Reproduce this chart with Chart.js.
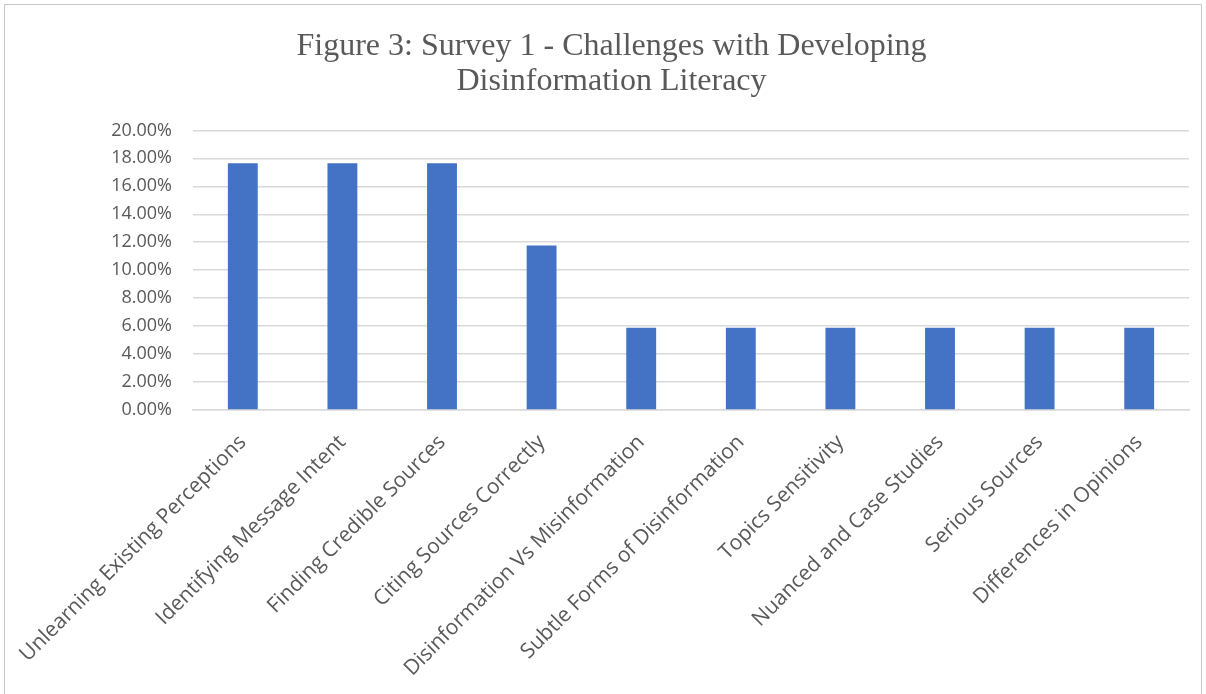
<!DOCTYPE html>
<html>
<head>
<meta charset="utf-8">
<script src="https://cdn.jsdelivr.net/npm/chart.js@4"></script>
<style>
  html, body { margin: 0; padding: 0; background: #ffffff; overflow: hidden; }
  #wrap { position: absolute; left: 0; top: 0; width: 1206px; height: 694px; }
  #frame { position: absolute; left: 4px; top: 4px; width: 1198px; height: 700px; border: 1px solid #c8c8c8; box-sizing: border-box; }
  canvas { position: absolute; left: 0; top: 0; }
</style>
</head>
<body>
<div id="wrap">
  <div id="frame"></div>
  <canvas id="c" width="1206" height="694"></canvas>
</div>
<script>
const titleLines = ["Figure 3: Survey 1 - Challenges with Developing", "Disinformation Literacy"];
const categories = [
  "Unlearning Existing Perceptions",
  "Identifying Message Intent",
  "Finding Credible Sources",
  "Citing Sources Correctly",
  "Disinformation Vs Misinformation",
  "Subtle Forms of Disinformation",
  "Topics Sensitivity",
  "Nuanced and Case Studies",
  "Serious Sources",
  "Differences in Opinions"
];
const shares = [17.65, 17.65, 17.65, 11.76, 5.88, 5.88, 5.88, 5.88, 5.88, 5.88];
const yMin = 0, yMax = 20, yStep = 2;

const textGrey = '#595959';
const gridGrey = '#d9d9d9';

const titleShift = {
  id: 'titleShift',
  afterLayout(chart) {
    if (chart.titleBlock) { chart.titleBlock.left = 34; }
  }
};

new Chart(document.getElementById('c'), {
  type: 'bar',
  data: {
    labels: categories,
    datasets: [{
      data: shares,
      backgroundColor: '#4472c4',
      borderWidth: 0,
      barPercentage: 0.6,
      categoryPercentage: 0.5
    }]
  },
  plugins: [titleShift],
  options: {
    responsive: false,
    animation: false,
    devicePixelRatio: 1,
    layout: { padding: { left: 0, right: 17, top: 4, bottom: 0 } },
    plugins: {
      legend: { display: false },
      tooltip: { enabled: false },
      title: {
        display: true,
        text: titleLines,
        color: textGrey,
        font: { family: '"Liberation Serif", "Times New Roman", serif', size: 32, weight: 'normal', lineHeight: 1.1 },
        padding: { top: 25, bottom: 31 }
      }
    },
    scales: {
      y: {
        min: yMin, max: yMax,
        afterFit: (s) => { s.width = 193; },
        ticks: {
          stepSize: yStep,
          color: textGrey,
          padding: 21,
          font: { family: '"Open Sans", "Liberation Sans", sans-serif', size: 18 },
          callback: (v) => Number(v).toFixed(2) + '%'
        },
        grid: { color: gridGrey, lineWidth: 1.5, drawTicks: false },
        border: { display: false }
      },
      x: {
        afterFit: (s) => { s.height = 694 - 410; },
        ticks: {
          color: textGrey,
          minRotation: 45, maxRotation: 45,
          autoSkip: false,
          padding: 12,
          font: { family: '"Open Sans", "Liberation Sans", sans-serif', size: 21 }
        },
        grid: { display: false },
        border: { display: true, color: gridGrey, width: 1.5 }
      }
    }
  }
});
</script>
</body>
</html>
